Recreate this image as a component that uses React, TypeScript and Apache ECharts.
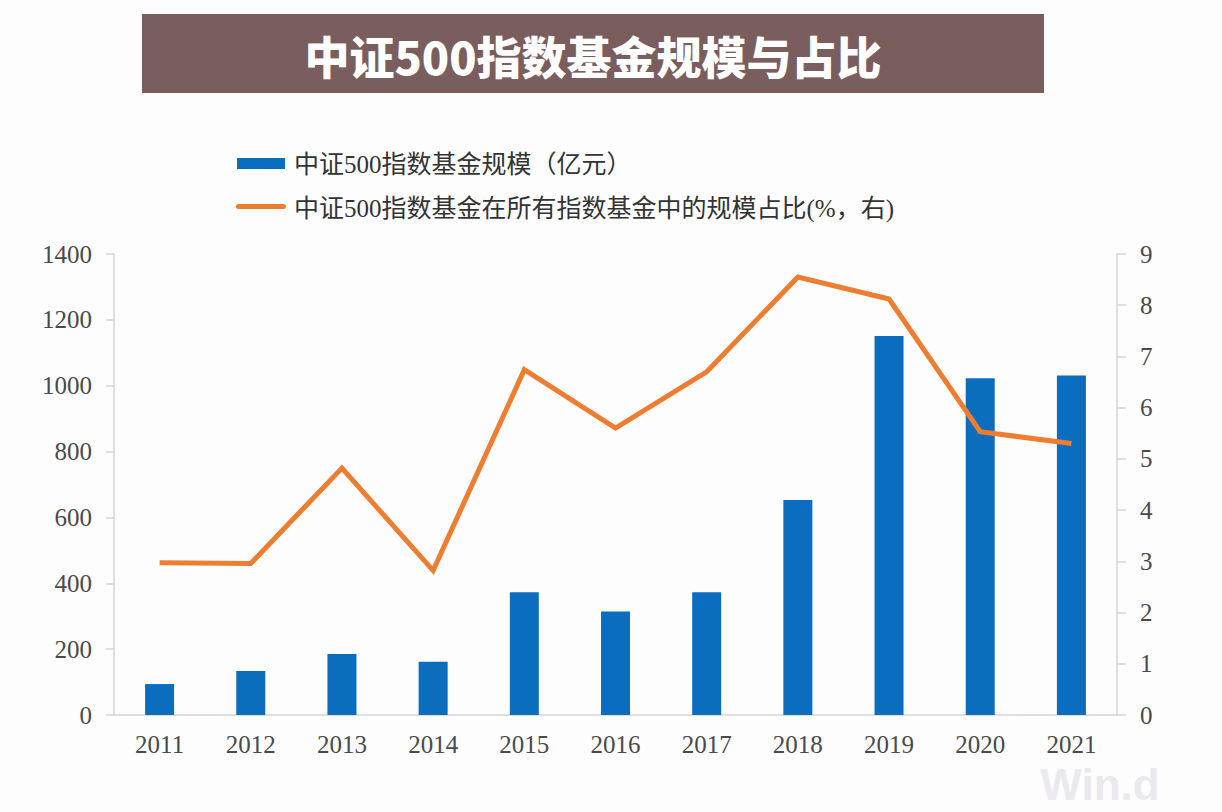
import React, { useEffect, useRef } from "react";
import * as echarts from "echarts";

const years = ["2011", "2012", "2013", "2014", "2015", "2016", "2017", "2018", "2019", "2020", "2021"];
const fundSize = [94, 134, 185, 162, 373, 314, 373, 653, 1151, 1023, 1031];
const sharePct = [2.97, 2.96, 4.82, 2.82, 6.74, 5.6, 6.7, 8.55, 8.12, 5.53, 5.3];
const barName = "中证500指数基金规模（亿元）";
const lineName = "中证500指数基金在所有指数基金中的规模占比(%，右)";
const titleText = "中证500指数基金规模与占比";

const BAR_COLOR = "#0b6dbd";
const LINE_COLOR = "#ed7d31";
const AXIS_COLOR = "#d4d4d4";
const LABEL_COLOR = "#4a4a4a";
const SERIF = "'Liberation Serif', 'DejaVu Serif', 'Noto Sans CJK SC', serif";

export default function App() {
  const ref = useRef<HTMLDivElement>(null);

  useEffect(() => {
    if (!ref.current) return;
    const chart = echarts.init(ref.current, null, { renderer: "svg" });
    chart.setOption({
      animation: false,
      backgroundColor: "#fdfdfd",
      grid: { left: 114, right: 105, top: 254, bottom: 97, containLabel: false },
      xAxis: {
        type: "category",
        data: years,
        boundaryGap: true,
        axisLine: { show: true, lineStyle: { color: AXIS_COLOR, width: 1.5 } },
        axisTick: { show: false },
        axisLabel: { color: LABEL_COLOR, fontSize: 25, fontFamily: SERIF, margin: 17 },
      },
      yAxis: [
        {
          type: "value",
          min: 0,
          max: 1400,
          interval: 200,
          position: "left",
          splitLine: { show: false },
          axisLine: { show: true, lineStyle: { color: AXIS_COLOR, width: 1.5 } },
          axisTick: { show: true, length: 8, lineStyle: { color: AXIS_COLOR, width: 1.5 } },
          axisLabel: {
            color: LABEL_COLOR,
            fontSize: 25,
            fontFamily: SERIF,
            margin: 22,
            formatter: (v: number) => String(v),
          },
        },
        {
          type: "value",
          min: 0,
          max: 9,
          interval: 1,
          position: "right",
          splitLine: { show: false },
          axisLine: { show: true, lineStyle: { color: AXIS_COLOR, width: 1.5 } },
          axisTick: { show: true, length: 9, lineStyle: { color: AXIS_COLOR, width: 1.5 } },
          axisLabel: {
            color: LABEL_COLOR,
            fontSize: 25,
            fontFamily: SERIF,
            margin: 23,
            formatter: (v: number) => String(v),
          },
        },
      ],
      series: [
        {
          name: barName,
          type: "bar",
          yAxisIndex: 0,
          data: fundSize,
          barWidth: 29,
          itemStyle: { color: BAR_COLOR },
        },
        {
          name: lineName,
          type: "line",
          yAxisIndex: 1,
          data: sharePct,
          showSymbol: false,
          symbol: "none",
          lineStyle: { color: LINE_COLOR, width: 5, join: "miter" },
          itemStyle: { color: LINE_COLOR },
          z: 5,
        },
      ],
      graphic: [
        {
          type: "rect",
          left: 142,
          top: 14,
          shape: { width: 902, height: 79 },
          style: { fill: "#7a5e5d" },
          z: 1,
        },
        {
          type: "text",
          x: 593,
          y: 55,
          style: {
            text: titleText,
            fill: "#ffffff",
            font: "900 45px 'Noto Sans CJK SC', 'Noto Sans', sans-serif",
            align: "center",
            verticalAlign: "middle",
          },
          z: 2,
        },
        {
          type: "rect",
          x: 237,
          y: 158,
          shape: { width: 48, height: 11 },
          style: { fill: BAR_COLOR },
        },
        {
          type: "text",
          x: 294,
          y: 164,
          style: {
            text: barName,
            fill: "#333333",
            font: "25px 'Liberation Serif', 'Noto Sans CJK SC', serif",
            verticalAlign: "middle",
          },
        },
        {
          type: "rect",
          x: 236,
          y: 204,
          shape: { width: 50, height: 5, r: 2.5 },
          style: { fill: LINE_COLOR },
        },
        {
          type: "text",
          x: 294,
          y: 208,
          style: {
            text: lineName,
            fill: "#333333",
            font: "25px 'Liberation Serif', 'Noto Sans CJK SC', serif",
            verticalAlign: "middle",
          },
        },
        {
          type: "text",
          x: 1100,
          y: 784,
          style: {
            text: "Win.d",
            fill: "#ebe9ee",
            font: "bold 44px 'Liberation Sans', 'DejaVu Sans', sans-serif",
            align: "center",
            verticalAlign: "middle",
          },
          z: -1,
        },
      ],
    });
    return () => chart.dispose();
  }, []);

  return (
    <div
      ref={ref}
      style={{ position: "fixed", left: 0, top: 0, width: 1222, height: 812 }}
    />
  );
}
